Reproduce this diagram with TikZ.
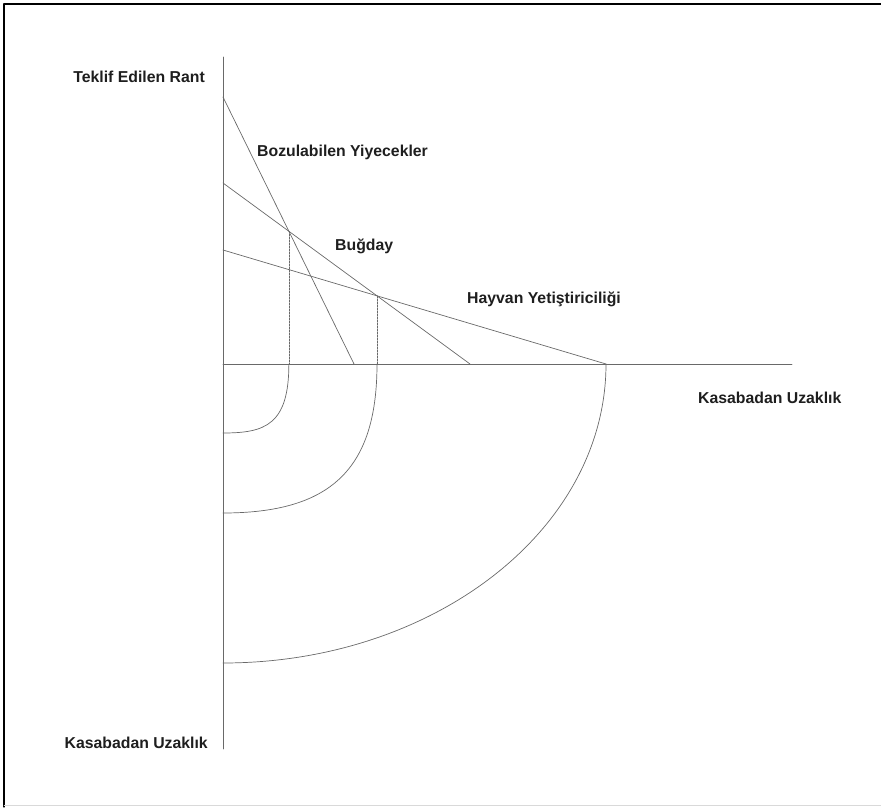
\documentclass[tikz,border=0pt]{standalone}
\usepackage{fontspec}
\setmainfont{Liberation Sans}
\definecolor{linegray}{RGB}{105,105,105}
\definecolor{textgray}{RGB}{30,30,30}
\begin{document}
\begin{tikzpicture}[line cap=round,line join=round,x=1pt,y=1pt,
  axisline/.style={line width=0.8pt,color=linegray},
  rentline/.style={line width=0.7pt,color=linegray},
  guideline/.style={line width=0.5pt,color=linegray,dash pattern=on 2pt off 1pt},
  lbl/.style={inner sep=0pt,color=textgray,font=\fontsize{15.8}{18}\selectfont\bfseries}]
\useasboundingbox (0,0) rectangle (881,807);
\draw [line width=1.2pt] (4,0) -- (4,803) -- (881,803);
\draw [line width=0.5pt,color=black!15] (4,2) -- (881,2);
% axes
\coordinate (O) at (223,443);
\coordinate (ytop) at (223,750);
\coordinate (ybot) at (223,58);
\coordinate (xend) at (792,443);
\draw [axisline] (ytop) -- (ybot);
\draw [axisline] (O) -- (xend);
% bid rent lines
\coordinate (p1) at (223,710);
\coordinate (q1) at (354,443);
\coordinate (p2) at (223,624);
\coordinate (q2) at (470,443);
\coordinate (p3) at (223,557);
\coordinate (q3) at (606,443);
\draw [rentline] (p1) -- (q1);
\draw [rentline] (p2) -- (q2);
\draw [rentline] (p3) -- (q3);
\coordinate (s1) at (intersection of p1--q1 and p2--q2);
\coordinate (s2) at (intersection of p2--q2 and p3--q3);
\coordinate (f1) at (s1 |- O);
\coordinate (f2) at (s2 |- O);
\draw [guideline] (s1) -- (f1);
\draw [guideline] (s2) -- (f2);
% rings
\coordinate (r1) at (223,374);
\coordinate (r2) at (223,294);
\draw [rentline] (f1) .. controls +(0,-61) and +(42,0) .. (r1);
\draw [rentline] (f2) .. controls +(0,-106) and +(107,0) .. (r2);
\draw [rentline] (q3) arc [start angle=0,end angle=-90,x radius=383,y radius=299];
% labels
\node [lbl,anchor=base east] (rant) at (205,724) {Teklif Edilen Rant};
\node [lbl,anchor=base west] (bozul) at (257,650) {Bozulabilen Yiyecekler};
\node [lbl,anchor=base west] (bugday) at (335,556) {Buğday};
\node [lbl,anchor=base west] (hayvan) at (467,503) {Hayvan Yetiştiriciliği};
\node [lbl,anchor=base west] (uzakx) at (698,403) {Kasabadan Uzaklık};
\node [lbl,anchor=base east] (uzaky) at (208,59) {Kasabadan Uzaklık};
\end{tikzpicture}
\end{document}
